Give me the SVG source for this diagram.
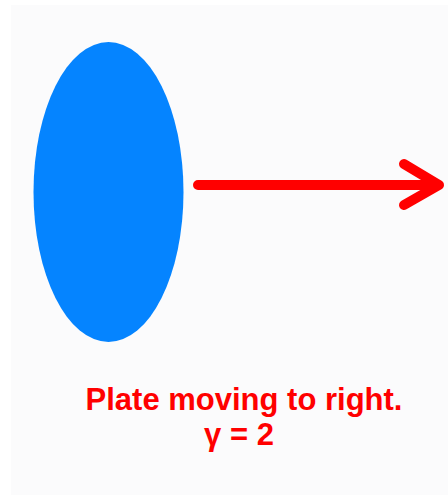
<svg xmlns="http://www.w3.org/2000/svg" width="448" height="495" viewBox="0 0 448 495">
<style>
.lbl{font-family:"Liberation Sans",Arial,sans-serif;font-weight:bold;fill:#ff0000;text-anchor:middle}
.arr{stroke:#ff0000;stroke-width:10;stroke-linecap:round;stroke-linejoin:round;fill:none}
</style>
<rect width="448" height="495" fill="#ffffff"/>
<rect x="11" y="5" width="437" height="490" fill="#fbfbfc"/>
<g id="plate">
<ellipse cx="108.5" cy="192" rx="75" ry="150" fill="#0584ff"/>
</g>
<g id="connectors">
<path class="arr" d="M198 185 H439 M404 164 L439 185 L404 205"/>
</g>
<g id="label">
<text class="lbl" x="244" y="410" font-size="31">Plate moving to right.</text>
<text class="lbl" x="239" y="445" font-size="31">γ = 2</text>
</g>
</svg>
